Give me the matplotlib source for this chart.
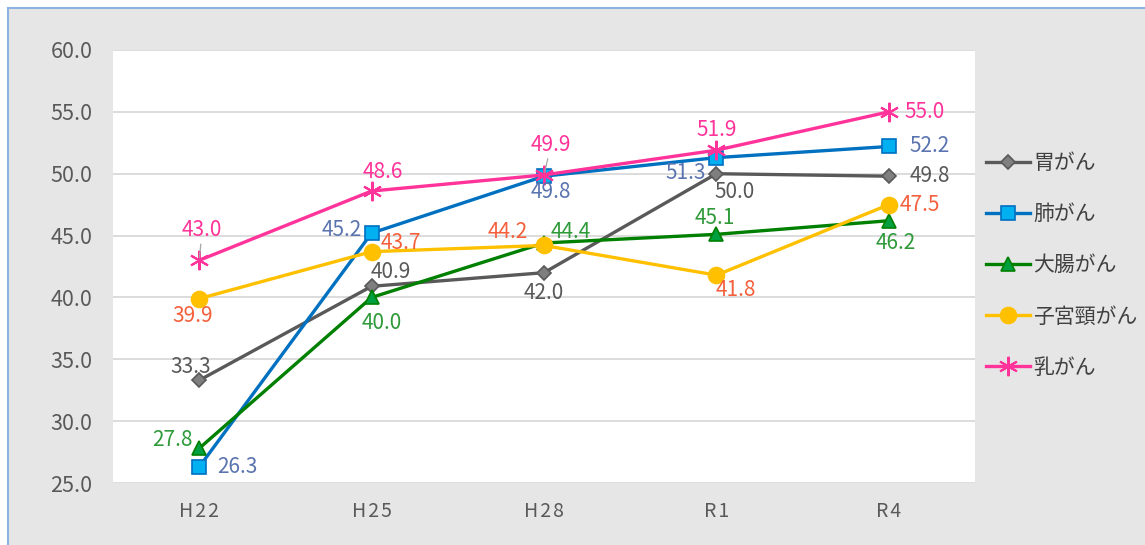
import matplotlib.pyplot as plt
from matplotlib.patches import Rectangle
from matplotlib.lines import Line2D

plt.rcParams['font.family'] = ['Noto Sans CJK JP', 'DejaVu Sans']

years = ['H22', 'H25', 'H28', 'R1', 'R4']
names = ['胃がん', '肺がん', '大腸がん', '子宮頸がん', '乳がん']
stomach = [33.3, 40.9, 42.0, 50.0, 49.8]
lung = [26.3, 45.2, 49.8, 51.3, 52.2]
colon = [27.8, 40.0, 44.4, 45.1, 46.2]
cervix = [39.9, 43.7, 44.2, 41.8, 47.5]
breast = [43.0, 48.6, 49.9, 51.9, 55.0]
series = [stomach, lung, colon, cervix, breast]

# line colour, marker face, marker, marker size, label colour
styles = [
    ('#595959', '#7f7f7f', 'D', 7, '#595959'),
    ('#0070c0', '#00b0f0', 's', 10, '#5a74b0'),
    ('#008000', '#00a040', '^', 10, '#2f9a3a'),
    ('#ffc000', '#ffc000', 'o', 11.5, '#f4603c'),
    ('#ff3399', '#ff3399', (6, 2, 0), 14, '#ff3399'),
]

# label offsets in pixels (dx, dy, ha) for each point
offsets = [
    [(-9, 13, 'center'), (19, 14, 'center'), (0, -20, 'center'), (18, -18, 'center'), (21, 0, 'left')],
    [(18, 0, 'left'), (-30, 3, 'center'), (7, -16, 'center'), (-31, -15, 'center'), (21, 0, 'left')],
    [(-27, 8, 'center'), (10, -26, 'center'), (27, 11, 'center'), (-2, 16, 'center'), (7, -22, 'center')],
    [(-7, -17, 'center'), (29, 9, 'center'), (-36, 13, 'center'), (19, -15, 'center'), (11, 0, 'left')],
    [(3, 30, 'center'), (11, 19, 'center'), (7, 30, 'center'), (0, 20, 'center'), (16, 0, 'left')],
]
leaders = [(4, 0), (4, 2)]  # labels with a short leader line

fig = plt.figure(figsize=(11.45, 5.45), dpi=100)
fig.patch.set_facecolor('white')
fig.patches.append(Rectangle((8 / 1145, 0), 1, 1 - 8 / 545, transform=fig.transFigure,
                             facecolor='#e7e6e6', edgecolor='none', zorder=-10))
fig.lines.append(Line2D([8 / 1145, 1], [1 - 8 / 545] * 2, transform=fig.transFigure,
                        color='#8db3e2', lw=1.5, zorder=-5))
fig.lines.append(Line2D([8 / 1145] * 2, [0, 1 - 8 / 545], transform=fig.transFigure,
                        color='#8db3e2', lw=1.5, zorder=-5))

ax = fig.add_axes([113 / 1145, 1 - 483 / 545, 862 / 1145, 433 / 545])
ax.set_facecolor('white')
x = list(range(len(years)))

handles = []
for si, (vals, st, offs, name) in enumerate(zip(series, styles, offsets, names)):
    lc, mf, mk, ms, tc = st
    h, = ax.plot(x, vals, color=lc, lw=2.4, marker=mk, markersize=ms,
                 markerfacecolor=mf, markeredgecolor=lc, markeredgewidth=1.2,
                 label=name, zorder=3)
    if mk == (6, 2, 0):
        h.set_markeredgewidth(1.5)
    handles.append(h)
    for xi, v, (dx, dy, ha) in zip(x, vals, offs):
        ap = None
        if (si, xi) in leaders:
            ap = dict(arrowstyle='-', color='#a6a6a6', lw=0.9, shrinkA=0, shrinkB=2)
        ax.annotate(f'{v:.1f}', (xi, v), xytext=(dx, dy), textcoords='offset pixels',
                    ha=ha, va='center', fontsize=15, color=tc, zorder=5, arrowprops=ap)

ax.set_xlim(-0.5, 4.5)
ax.set_ylim(25, 60)
ax.set_yticks([25, 30, 35, 40, 45, 50, 55, 60])
ax.set_yticklabels([f'{t:.1f}' for t in ax.get_yticks()], fontsize=15.5, color='#595959')
ax.set_xticks(x)
ax.set_xticklabels(['\u200a'.join(y) for y in years], fontsize=14, color='#595959')
ax.tick_params(length=0)
ax.tick_params(axis='y', pad=15)
ax.tick_params(axis='x', pad=13)
ax.grid(axis='y', color='#d9d9d9', lw=1.3)
ax.set_axisbelow(True)
for s in ax.spines.values():
    s.set_visible(False)

fig.legend(handles=handles, loc='upper left', bbox_to_anchor=(986 / 1145, 1 - 152 / 545),
           frameon=False, fontsize=15, handlelength=2.1, handletextpad=0.15,
           labelspacing=1.4, borderaxespad=0, borderpad=0, labelcolor='#404040')

plt.savefig('out.png', dpi=100, facecolor=fig.get_facecolor())
